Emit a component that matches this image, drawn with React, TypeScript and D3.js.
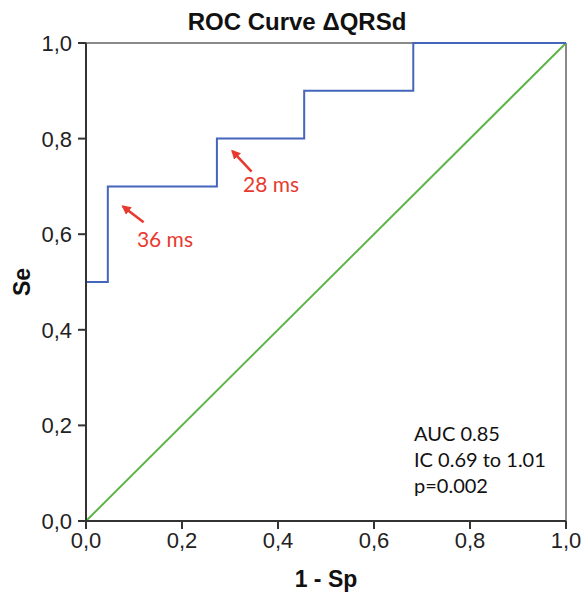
import React from "react";
import * as d3 from "d3";

const rocFpr = [0, 0, 1 / 22, 1 / 22, 6 / 22, 6 / 22, 10 / 22, 10 / 22, 15 / 22, 15 / 22, 1];
const rocTpr = [0, 0.5, 0.5, 0.7, 0.7, 0.8, 0.8, 0.9, 0.9, 1.0, 1.0];
const refLine = [0, 1];
const tickValues = [0, 0.2, 0.4, 0.6, 0.8, 1.0];
// annotation: label, label anchor (data units), arrow tail & tip (data units)
const annotations = [
  { label: "36 ms", lx: 0.106, ly: 0.573, tx: 0.12, ty: 0.625, hx: 0.077, hy: 0.658 },
  { label: "28 ms", lx: 0.327, ly: 0.688, tx: 0.345, ty: 0.731, hx: 0.305, hy: 0.774 },
];
const statsLines = ["AUC 0.85", "IC 0.69 to 1.01", "p=0.002"];
const title = "ROC Curve ΔQRSd";
const xTitle = "1 - Sp";
const yTitle = "Se";

const W = 583;
const H = 600;
const M = { left: 86, right: 17, top: 43, bottom: 79 };

export default function App() {
  const x = d3.scaleLinear().domain([0, 1]).range([M.left, W - M.right]);
  const y = d3.scaleLinear().domain([0, 1]).range([H - M.bottom, M.top]);
  const fmt = (v: number) => d3.format(".1f")(v).replace(".", ",");

  const rocPts: [number, number][] = rocFpr.map((f, i) => [f, rocTpr[i]]);
  const line = d3
    .line<[number, number]>()
    .x((d) => x(d[0]))
    .y((d) => y(d[1]));

  const axisColor = "#333";
  const frameColor = "#8a8a8a";
  const red = "#e8392f";
  const tickFont = "Liberation Sans, Arial, sans-serif";

  return (
    <svg
      width={W}
      height={H}
      style={{ position: "absolute", left: 0, top: 0, background: "#fff" }}
    >
      <defs>
        <marker
          id="arr"
          viewBox="0 0 10 10"
          refX="8"
          refY="5"
          markerWidth="3.6"
          markerHeight="3.6"
          orient="auto"
        >
          <path d="M0,0 L10,5 L0,10 z" fill={red} />
        </marker>
      </defs>
      <rect x={0} y={0} width={W} height={H} fill="#fff" />
      {/* frame top/right */}
      <line x1={x(0)} x2={x(1)} y1={y(1)} y2={y(1)} stroke={frameColor} strokeWidth={2} />
      <line x1={x(1)} x2={x(1)} y1={y(1)} y2={y(0)} stroke={frameColor} strokeWidth={2} />

      {/* reference diagonal */}
      <line
        x1={x(refLine[0])}
        y1={y(refLine[0])}
        x2={x(refLine[1])}
        y2={y(refLine[1])}
        stroke="#5db54a"
        strokeWidth={2}
      />
      {/* ROC */}
      <path d={line(rocPts) || ""} fill="none" stroke="#4465bb" strokeWidth={2} />

      {/* axes */}
      <line x1={x(0)} x2={x(1)} y1={y(0)} y2={y(0)} stroke={axisColor} strokeWidth={2} />
      <line x1={x(0)} x2={x(0)} y1={y(0)} y2={y(1)} stroke={axisColor} strokeWidth={2} />
      {tickValues.map((t) => (
        <g key={"x" + t}>
          <line x1={x(t)} x2={x(t)} y1={y(0)} y2={y(0) + 8} stroke={axisColor} strokeWidth={2} />
          <text
            x={x(t)}
            y={y(0) + 27}
            textAnchor="middle"
            fontFamily={tickFont}
            fontSize={22}
            fill="#222"
          >
            {fmt(t)}
          </text>
          <line x1={x(0) - 8} x2={x(0)} y1={y(t)} y2={y(t)} stroke={axisColor} strokeWidth={2} />
          <text
            x={x(0) - 14}
            y={y(t) + 8}
            textAnchor="end"
            fontFamily={tickFont}
            fontSize={22}
            fill="#222"
          >
            {fmt(t)}
          </text>
        </g>
      ))}

      {/* titles */}
      <text x={297} y={30} textAnchor="middle" fontFamily={tickFont} fontWeight="bold" fontSize={24} fill="#111">
        {title}
      </text>
      <text x={326} y={587} textAnchor="middle" fontFamily={tickFont} fontWeight="bold" fontSize={23} fill="#111">
        {xTitle}
      </text>
      <text
        transform={`translate(30,${282}) rotate(-90)`}
        textAnchor="middle"
        fontFamily={tickFont}
        fontWeight="bold"
        fontSize={23}
        fill="#111"
      >
        {yTitle}
      </text>

      {/* annotations */}
      {annotations.map((a) => (
        <g key={a.label}>
          <line
            x1={x(a.tx)}
            y1={y(a.ty)}
            x2={x(a.hx)}
            y2={y(a.hy)}
            stroke={red}
            strokeWidth={2.6}
            markerEnd="url(#arr)"
          />
          <text x={x(a.lx)} y={y(a.ly)} fontFamily="Lato, sans-serif" fontSize={21} fill={red}>
            {a.label}
          </text>
        </g>
      ))}

      {/* stats */}
      {statsLines.map((s, i) => (
        <text
          key={s}
          x={414}
          y={441 + i * 26}
          fontFamily="Lato, sans-serif"
          fontSize={20}
          fill="#111"
        >
          {s}
        </text>
      ))}
    </svg>
  );
}
